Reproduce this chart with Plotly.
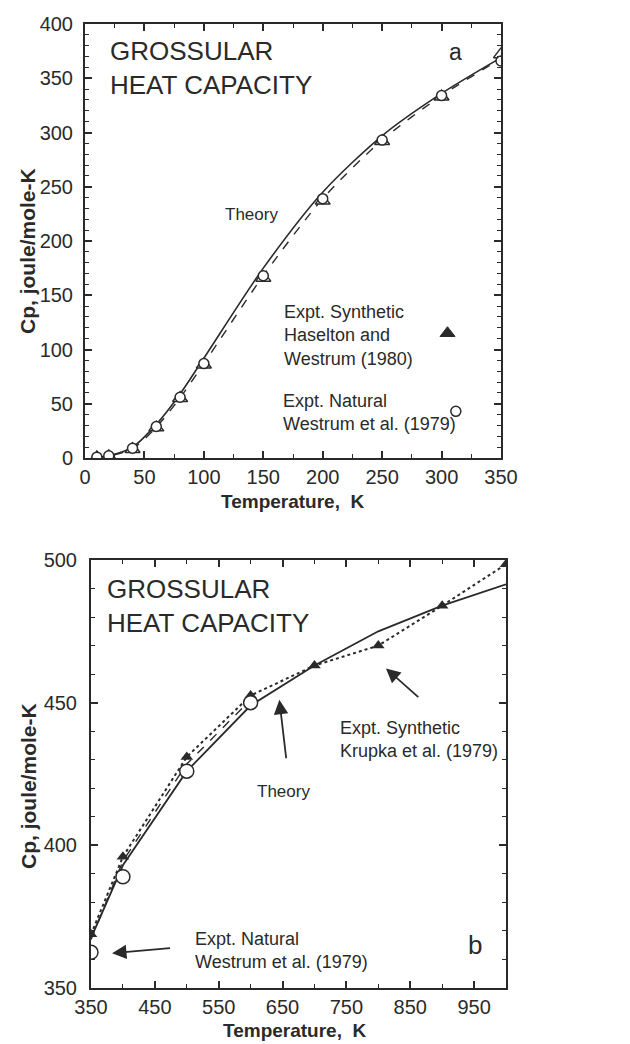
import plotly.graph_objects as go

# ---------------- Panel a data (0-350 K) ----------------
T_a = [10, 20, 40, 60, 80, 100, 150, 200, 250, 300, 350]
cp_syn_a = [0.5, 1.5, 8, 28, 55, 86, 166, 237, 292, 333, 372]
cp_nat_a = [0.8, 2.0, 9, 29, 56, 87, 168, 239, 293, 334, 366]
theory_T_a = [10, 20, 40, 60, 80, 100, 150, 200, 250, 300, 350]
theory_a = [0.3, 2.0, 10, 31, 59, 92, 175, 245, 297, 336, 369]
dashed_a = [0.5, 1.8, 8.5, 28.5, 55.5, 87, 168, 239, 293, 334, 368]

# ---------------- Panel b data (350-1000 K) ----------------
T_b_syn = [350, 400, 500, 600, 700, 800, 900, 1000]
cp_syn_b = [368.8, 396, 431, 452.5, 463, 470, 484, 498.5]
T_b_nat = [350, 400, 500, 600]
cp_nat_b = [362.5, 389, 426, 450]
theory_T_b = [350, 400, 500, 600, 700, 800, 900, 1000]
theory_b = [367.5, 393, 426, 449, 463, 475, 484, 491.5]
dashed_T_b = [350, 400, 500, 600]
dashed_b = [367, 394.5, 428.5, 451]

# tick labels
xticks_a = [0, 50, 100, 150, 200, 250, 300, 350]
yticks_a = [0, 50, 100, 150, 200, 250, 300, 350, 400]
xticks_b = [350, 450, 550, 650, 750, 850, 950]
yticks_b = [350, 400, 450, 500]

FONT = "Liberation Sans, Arial, Helvetica, sans-serif"
INK = "#2a2a2a"
W, H = 630, 1044


def px(x):
    return x / W


def py(y):
    return 1 - y / H


fig = go.Figure()

# ---- panel a traces ----
fig.add_trace(go.Scatter(x=theory_T_a, y=theory_a, mode="lines",
                         line=dict(color=INK, width=1.6, shape="spline", smoothing=0.8),
                         xaxis="x", yaxis="y", showlegend=False))
fig.add_trace(go.Scatter(x=T_a, y=dashed_a, mode="lines",
                         line=dict(color=INK, width=1.4, dash="dash", shape="spline", smoothing=0.8),
                         xaxis="x", yaxis="y", showlegend=False))
fig.add_trace(go.Scatter(x=T_a, y=cp_syn_a, mode="markers",
                         marker=dict(symbol="triangle-up", size=13, color="white",
                                     line=dict(color=INK, width=1.5)),
                         xaxis="x", yaxis="y", showlegend=False))
fig.add_trace(go.Scatter(x=T_a, y=cp_nat_a, mode="markers",
                         marker=dict(symbol="circle", size=10, color="white",
                                     line=dict(color=INK, width=1.5)),
                         xaxis="x", yaxis="y", showlegend=False))
# legend symbols in panel a
fig.add_trace(go.Scatter(x=[305], y=[115], mode="markers",
                         marker=dict(symbol="triangle-up", size=13, color=INK,
                                     line=dict(color=INK, width=1)),
                         xaxis="x", yaxis="y", showlegend=False))
fig.add_trace(go.Scatter(x=[312], y=[43], mode="markers",
                         marker=dict(symbol="circle", size=10, color="white",
                                     line=dict(color=INK, width=1.5)),
                         xaxis="x", yaxis="y", showlegend=False))

# ---- panel b traces ----
fig.add_trace(go.Scatter(x=theory_T_b, y=theory_b, mode="lines",
                         line=dict(color=INK, width=1.8),
                         xaxis="x2", yaxis="y2", showlegend=False))
fig.add_trace(go.Scatter(x=dashed_T_b, y=dashed_b, mode="lines",
                         line=dict(color=INK, width=1.4, dash="dash"),
                         xaxis="x2", yaxis="y2", showlegend=False))
fig.add_trace(go.Scatter(x=T_b_syn, y=cp_syn_b, mode="lines+markers",
                         line=dict(color=INK, width=2, dash="dot"),
                         marker=dict(symbol="triangle-up", size=11, color=INK),
                         xaxis="x2", yaxis="y2", showlegend=False))
fig.add_trace(go.Scatter(x=T_b_nat, y=cp_nat_b, mode="markers",
                         marker=dict(symbol="circle", size=14, color="white",
                                     line=dict(color=INK, width=1.5)),
                         xaxis="x2", yaxis="y2", showlegend=False))

axis_common = dict(showline=True, linecolor=INK, linewidth=2, mirror="allticks",
                   ticks="inside", ticklen=7, tickwidth=1.5, tickcolor=INK,
                   showgrid=False, zeroline=False, automargin=False,
                   tickfont=dict(family=FONT, size=20, color=INK))

fig.update_layout(
    width=W, height=H,
    margin=dict(l=0, r=0, t=0, b=0, autoexpand=False),
    paper_bgcolor="white", plot_bgcolor="white",
    xaxis=dict(domain=[px(77), px(493)], range=[0, 350], anchor="y",
               tickvals=xticks_a, ticklabelstandoff=0,
               minor=dict(dtick=25, tick0=0, ticks="inside", ticklen=4,
                          tickcolor=INK, tickwidth=1.2),
               **axis_common),
    yaxis=dict(domain=[py(450), py(16)], range=[0, 400], anchor="x",
               tickvals=yticks_a, ticklabelstandoff=6,
               minor=dict(dtick=10, tick0=0, ticks="inside", ticklen=4,
                          tickcolor=INK, tickwidth=1.2),
               **axis_common),
    xaxis2=dict(domain=[px(83), px(498)], range=[350, 1000], anchor="y2",
                tickvals=xticks_b, ticklabelstandoff=0,
                minor=dict(dtick=50, tick0=350, ticks="inside", ticklen=4,
                           tickcolor=INK, tickwidth=1.2),
                **axis_common),
    yaxis2=dict(domain=[py(980), py(552)], range=[350, 500], anchor="x2",
                tickvals=yticks_b, ticklabelstandoff=8,
                minor=dict(dtick=10, tick0=350, ticks="inside", ticklen=4,
                           tickcolor=INK, tickwidth=1.2),
                **axis_common),
)

ann = []
def txt(x, y, s, size, xref="x", yref="y", xanchor="left", yanchor="middle",
        bold=False, angle=0, align="left"):
    ann.append(dict(x=x, y=y, xref=xref, yref=yref, text=(f"<b>{s}</b>" if bold else s),
                    showarrow=False, xanchor=xanchor, yanchor=yanchor, align=align,
                    textangle=angle, font=dict(family=FONT, size=size, color=INK)))

# panel a texts
txt(19, 359, "GROSSULAR<br>HEAT CAPACITY", 26)
txt(312, 374, "a", 23, xanchor="center")
txt(140, 224, "Theory", 17, xanchor="center")
txt(166, 113, "Expt. Synthetic<br>Haselton and<br>Westrum (1980)", 18)
txt(165, 42, "Expt. Natural<br>Westrum et al. (1979)", 18)
txt(px(20), py(243), "Cp, joule/mole-K", 21, xref="paper", yref="paper",
    xanchor="center", bold=True, angle=-90)
txt(px(285), py(493), "Temperature,  K", 19, xref="paper", yref="paper",
    xanchor="center", bold=True)

# panel b texts
def txt2(x, y, s, size, **kw):
    txt(x, y, s, size, xref="x2", yref="y2", **kw)

txt2(372, 484, "GROSSULAR<br>HEAT CAPACITY", 26)
txt2(652, 419, "Theory", 17, xanchor="center")
txt2(737, 437, "Expt. Synthetic<br>Krupka et al. (1979)", 18)
txt2(510, 363, "Expt. Natural<br>Westrum et al. (1979)", 18)
txt2(952, 365, "b", 26, xanchor="center")
txt(px(20), py(778), "Cp, joule/mole-K", 21, xref="paper", yref="paper",
    xanchor="center", bold=True, angle=-90)
txt(px(287), py(1022), "Temperature,  K", 19, xref="paper", yref="paper",
    xanchor="center", bold=True)

# arrows panel b
def arrow(x, y, ax, ay):
    ann.append(dict(x=x, y=y, ax=ax, ay=ay, xref="x2", yref="y2", axref="x2", ayref="y2",
                    showarrow=True, arrowhead=2, arrowsize=1.6, arrowwidth=1.8,
                    arrowcolor=INK, text=""))

arrow(645, 451, 656, 430)
arrow(812, 462, 865, 451.5)
arrow(383, 362.2, 476, 364)

fig.update_layout(annotations=ann)
fig.write_html("out.html")
